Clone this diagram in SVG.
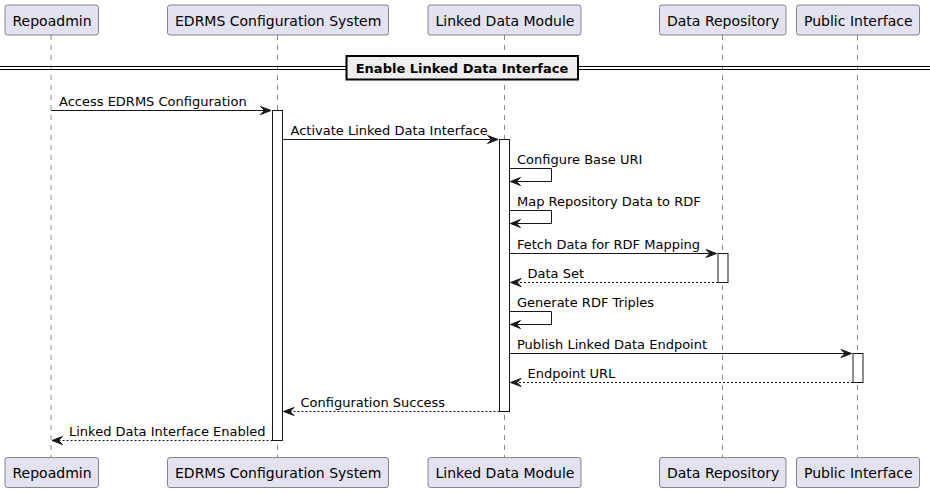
<svg xmlns="http://www.w3.org/2000/svg" width="930" height="493" viewBox="0 0 930 493">
<style>
.part{fill:#E2E2F0;stroke:#181818;stroke-width:0.5}
.pt{font-family:"DejaVu Sans",sans-serif;font-size:14px;fill:#000}
.life{stroke:#181818;stroke-width:0.5;stroke-dasharray:5,5}
.act{fill:#FFFFFF;stroke:#181818;stroke-width:1}
.msg{stroke:#181818;stroke-width:1;fill:none}
.ret{stroke:#181818;stroke-width:1;fill:none;stroke-dasharray:2,2}
.mt{font-family:"DejaVu Sans",sans-serif;font-size:13px;fill:#000}
.ah{fill:#181818;stroke:#181818;stroke-width:1}
</style>
<rect width="930" height="493" fill="#FFFFFF"/>
<g id="lifelines">
<line class="life" x1="51" y1="35" x2="51" y2="457"/>
<line class="life" x1="277.5" y1="35" x2="277.5" y2="457"/>
<line class="life" x1="504.5" y1="35" x2="504.5" y2="457"/>
<line class="life" x1="722.5" y1="35" x2="722.5" y2="457"/>
<line class="life" x1="857.5" y1="35" x2="857.5" y2="457"/>
</g>
<g id="separator">
<line x1="0" y1="66.5" x2="930" y2="66.5" stroke="#000" stroke-width="1"/>
<line x1="0" y1="69.5" x2="930" y2="69.5" stroke="#000" stroke-width="1"/>
<rect x="346.5" y="56" width="231.5" height="23.5" fill="#EEEEEE" stroke="#000" stroke-width="2"/>
<text x="462" y="72.5" text-anchor="middle" font-family="DejaVu Sans, sans-serif" font-size="13" font-weight="bold">Enable Linked Data Interface</text>
</g>
<g id="p-repoadmin">
<rect class="part" x="5" y="5" width="93.5" height="30" rx="2.5"/>
<text class="pt" x="12.5" y="25.5">Repoadmin</text>
<rect class="part" x="5" y="457.5" width="93.5" height="30" rx="2.5"/>
<text class="pt" x="12.5" y="478">Repoadmin</text>
</g>
<g id="p-edrms">
<rect class="part" x="167.5" y="5" width="221" height="30" rx="2.5"/>
<text class="pt" x="175" y="25.5">EDRMS Configuration System</text>
<rect class="part" x="167.5" y="457.5" width="221" height="30" rx="2.5"/>
<text class="pt" x="175" y="478">EDRMS Configuration System</text>
</g>
<g id="p-ldm">
<rect class="part" x="428" y="5" width="153" height="30" rx="2.5"/>
<text class="pt" x="435.5" y="25.5">Linked Data Module</text>
<rect class="part" x="428" y="457.5" width="153" height="30" rx="2.5"/>
<text class="pt" x="435.5" y="478">Linked Data Module</text>
</g>
<g id="p-repo">
<rect class="part" x="659.5" y="5" width="126.5" height="30" rx="2.5"/>
<text class="pt" x="667" y="25.5">Data Repository</text>
<rect class="part" x="659.5" y="457.5" width="126.5" height="30" rx="2.5"/>
<text class="pt" x="667" y="478">Data Repository</text>
</g>
<g id="p-public">
<rect class="part" x="796.5" y="5" width="123" height="30" rx="2.5"/>
<text class="pt" x="804" y="25.5">Public Interface</text>
<rect class="part" x="796.5" y="457.5" width="123" height="30" rx="2.5"/>
<text class="pt" x="804" y="478">Public Interface</text>
</g>
<g id="activations">
<rect class="act" x="272.5" y="110.5" width="10" height="330"/>
<rect class="act" x="499.5" y="139.5" width="10" height="272"/>
<rect class="act" x="718" y="253.5" width="10" height="29"/>
<rect class="act" x="853" y="353.5" width="10" height="29"/>
</g>
<g id="connectors">
<line class="msg" x1="51" y1="110.5" x2="271" y2="110.5"/>
<polygon class="ah" points="260.5,106.5 271,110.5 260.5,114.5 264.5,110.5"/>
<text class="mt" x="59" y="105.5">Access EDRMS Configuration</text>

<line class="msg" x1="282.5" y1="139.5" x2="498" y2="139.5"/>
<polygon class="ah" points="487.5,135.5 498,139.5 487.5,143.5 491.5,139.5"/>
<text class="mt" x="290.5" y="134.5">Activate Linked Data Interface</text>

<polyline class="msg" points="509.5,168.5 551.5,168.5 551.5,181.5 510.5,181.5"/>
<polygon class="ah" points="520.5,177.5 510.5,181.5 520.5,185.5 516.5,181.5"/>
<text class="mt" x="517" y="164">Configure Base URI</text>

<polyline class="msg" points="509.5,210.5 551.5,210.5 551.5,223.5 510.5,223.5"/>
<polygon class="ah" points="520.5,219.5 510.5,223.5 520.5,227.5 516.5,223.5"/>
<text class="mt" x="517" y="206">Map Repository Data to RDF</text>

<line class="msg" x1="509.5" y1="253.5" x2="716.5" y2="253.5"/>
<polygon class="ah" points="706,249.5 716.5,253.5 706,257.5 710,253.5"/>
<text class="mt" x="517" y="248.5">Fetch Data for RDF Mapping</text>

<line class="ret" x1="718" y1="282.5" x2="510.5" y2="282.5"/>
<polygon class="ah" points="521,278.5 510.5,282.5 521,286.5 517,282.5"/>
<text class="mt" x="527.5" y="277.5">Data Set</text>

<polyline class="msg" points="509.5,311.5 551.5,311.5 551.5,324.5 510.5,324.5"/>
<polygon class="ah" points="520.5,320.5 510.5,324.5 520.5,328.5 516.5,324.5"/>
<text class="mt" x="517" y="306.5">Generate RDF Triples</text>

<line class="msg" x1="509.5" y1="353.5" x2="851.5" y2="353.5"/>
<polygon class="ah" points="841,349.5 851.5,353.5 841,357.5 845,353.5"/>
<text class="mt" x="517" y="348.5">Publish Linked Data Endpoint</text>

<line class="ret" x1="853" y1="382.5" x2="510.5" y2="382.5"/>
<polygon class="ah" points="521,378.5 510.5,382.5 521,386.5 517,382.5"/>
<text class="mt" x="527.5" y="377.5">Endpoint URL</text>

<line class="ret" x1="499.5" y1="411.5" x2="283.5" y2="411.5"/>
<polygon class="ah" points="294,407.5 283.5,411.5 294,415.5 290,411.5"/>
<text class="mt" x="300.5" y="406.5">Configuration Success</text>

<line class="ret" x1="272.5" y1="440.5" x2="52" y2="440.5"/>
<polygon class="ah" points="62.5,436.5 52,440.5 62.5,444.5 58.5,440.5"/>
<text class="mt" x="69" y="435.5">Linked Data Interface Enabled</text>
</g>
</svg>
